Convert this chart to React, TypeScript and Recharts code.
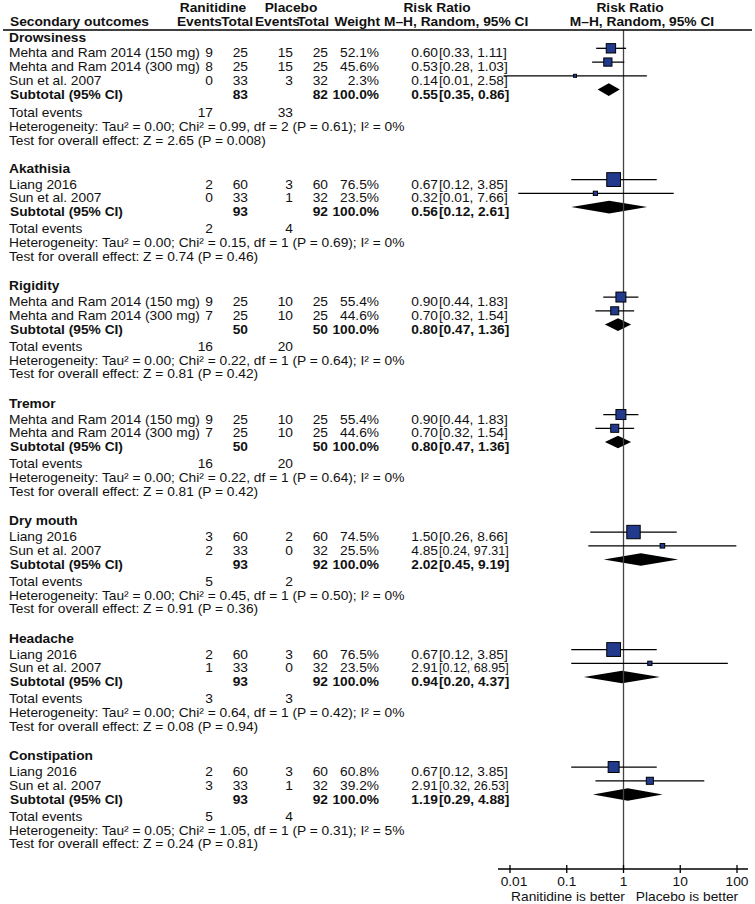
import React from "react";
import {
  ComposedChart,
  Scatter,
  Area,
  XAxis,
  YAxis,
  ErrorBar,
  ReferenceLine
} from "recharts";

const outcomes = ["Drowsiness", "Akathisia", "Rigidity", "Tremor", "Dry mouth", "Headache", "Constipation"];

// [study, ranitidine events, ranitidine total, placebo events, placebo total, weight %, RR, lower, upper]
type Study = [string, number, number, number, number, number, number, number, number];

const drowsiness: Study[] = [
  ["Mehta and Ram 2014  (150 mg)", 9, 25, 15, 25, 52.1, 0.6, 0.33, 1.11],
  ["Mehta and Ram 2014  (300 mg)", 8, 25, 15, 25, 45.6, 0.53, 0.28, 1.03],
  ["Sun et al. 2007", 0, 33, 3, 32, 2.3, 0.14, 0.0077, 2.58]
];
const akathisia: Study[] = [
  ["Liang 2016", 2, 60, 3, 60, 76.5, 0.67, 0.12, 3.85],
  ["Sun et al. 2007", 0, 33, 1, 32, 23.5, 0.32, 0.014, 7.66]
];
const rigidity: Study[] = [
  ["Mehta and Ram 2014  (150 mg)", 9, 25, 10, 25, 55.4, 0.9, 0.44, 1.83],
  ["Mehta and Ram 2014  (300 mg)", 7, 25, 10, 25, 44.6, 0.7, 0.32, 1.54]
];
const tremor: Study[] = [
  ["Mehta and Ram 2014  (150 mg)", 9, 25, 10, 25, 55.4, 0.9, 0.44, 1.83],
  ["Mehta and Ram 2014  (300 mg)", 7, 25, 10, 25, 44.6, 0.7, 0.32, 1.54]
];
const dryMouth: Study[] = [
  ["Liang 2016", 3, 60, 2, 60, 74.5, 1.5, 0.26, 8.66],
  ["Sun et al. 2007", 2, 33, 0, 32, 25.5, 4.85, 0.24, 97.31]
];
const headache: Study[] = [
  ["Liang 2016", 2, 60, 3, 60, 76.5, 0.67, 0.12, 3.85],
  ["Sun et al. 2007", 1, 33, 0, 32, 23.5, 2.91, 0.12, 68.95]
];
const constipation: Study[] = [
  ["Liang 2016", 2, 60, 3, 60, 60.8, 0.67, 0.12, 3.85],
  ["Sun et al. 2007", 3, 33, 1, 32, 39.2, 2.91, 0.32, 26.53]
];
const studies = [drowsiness, akathisia, rigidity, tremor, dryMouth, headache, constipation];

const subtotalN = [[83, 82], [93, 92], [50, 50], [50, 50], [93, 92], [93, 92], [93, 92]];
const subtotalRR = [
  [0.55, 0.35, 0.86],
  [0.56, 0.12, 2.61],
  [0.8, 0.47, 1.36],
  [0.8, 0.47, 1.36],
  [2.02, 0.45, 9.19],
  [0.94, 0.2, 4.37],
  [1.19, 0.29, 4.88]
];
const totalEvents = [[17, 33], [2, 4], [16, 20], [16, 20], [5, 2], [3, 3], [5, 4]];
// tau², chi², df, P, I²
const heterogeneity: [string, string, number, string, number][] = [
  ["0.00", "0.99", 2, "0.61", 0],
  ["0.00", "0.15", 1, "0.69", 0],
  ["0.00", "0.22", 1, "0.64", 0],
  ["0.00", "0.22", 1, "0.64", 0],
  ["0.00", "0.45", 1, "0.50", 0],
  ["0.00", "0.64", 1, "0.42", 0],
  ["0.05", "1.05", 1, "0.31", 5]
];
const overallEffect: [string, string][] = [
  ["2.65", "0.008"],
  ["0.74", "0.46"],
  ["0.81", "0.42"],
  ["0.81", "0.42"],
  ["0.91", "0.36"],
  ["0.08", "0.94"],
  ["0.24", "0.81"]
];

const xTicks = [0.01, 0.1, 1, 10, 100];

const FONT = "'Liberation Sans', Arial, sans-serif";
const SX = 1.075;
const DIAMOND_H = 0.46;

function T({ x, y, anchor = "start", bold = false, sx = SX, children }: any) {
  return (
    <text
      transform={`translate(${x},${y}) scale(${sx},1)`}
      textAnchor={anchor}
      fontWeight={bold ? 700 : 400}
      fontSize={12.8}
      fontFamily={FONT}
      fill="#111"
    >
      {children}
    </text>
  );
}

// build rows (y in row units)
const textRows: any[] = [];
const squares: any[] = [];
const diamonds: any[] = [];
let r = 0;
outcomes.forEach((name, g) => {
  const list = studies[g];
  const n = list.length;
  textRows.push({ x: 1, y: r, kind: "title", label: name });
  list.forEach((s, i) => {
    const y = r + 1.15 + i;
    textRows.push({ x: 1, y, kind: "study", s });
    squares.push({ x: s[6], y, w: s[5], err: [s[6] - s[7], s[8] - s[6]] });
  });
  const ys = r + 1.15 + n;
  const ye = ys + (n > 2 ? 1.36 : 1.26);
  const [rr, lo, hi] = subtotalRR[g];
  textRows.push({ x: 1, y: ys, kind: "subtotal", g });
  textRows.push({ x: 1, y: ye, kind: "events", g });
  textRows.push({ x: 1, y: ye + 1, kind: "het", g });
  textRows.push({ x: 1, y: ye + 2, kind: "test", g });
  diamonds.push(
    { x: lo, band: [ys, ys] },
    { x: rr, band: [ys - DIAMOND_H, ys + DIAMOND_H] },
    { x: hi, band: [ys, ys] },
    { x: 1, band: null }
  );
  r += n + 6.545;
});

const f2 = (v: number) => v.toFixed(2);

function Effect({ y, rr, lo, hi, bold }: any) {
  const ci = `[${f2(lo)}, ${f2(hi)}]`;
  return (
    <g>
      <T x={438} y={y} anchor="end" bold={bold}>{f2(rr)}</T>
      <T x={439} y={y} bold={bold} sx={ci.length > 12 ? 0.98 : SX}>{ci}</T>
    </g>
  );
}

function RowText(props: any) {
  const { cy, payload } = props;
  const y = cy + 9;
  if (payload.kind === "title") {
    return <T x={9} y={y} bold>{payload.label}</T>;
  }
  if (payload.kind === "study") {
    const s: Study = payload.s;
    return (
      <g>
        <T x={9} y={y}>{s[0]}</T>
        <T x={213} y={y} anchor="end">{s[1]}</T>
        <T x={248} y={y} anchor="end">{s[2]}</T>
        <T x={293} y={y} anchor="end">{s[3]}</T>
        <T x={328} y={y} anchor="end">{s[4]}</T>
        <T x={379} y={y} anchor="end">{`${s[5].toFixed(1)}%`}</T>
        <Effect y={y} rr={s[6]} lo={s[7]} hi={s[8]} />
      </g>
    );
  }
  const g = payload.g;
  if (payload.kind === "subtotal") {
    const [rr, lo, hi] = subtotalRR[g];
    return (
      <g>
        <T x={10} y={y} bold>Subtotal (95% CI)</T>
        <T x={248} y={y} anchor="end" bold>{subtotalN[g][0]}</T>
        <T x={328} y={y} anchor="end" bold>{subtotalN[g][1]}</T>
        <T x={379} y={y} anchor="end" bold>100.0%</T>
        <Effect y={y} rr={rr} lo={lo} hi={hi} bold />
      </g>
    );
  }
  if (payload.kind === "events") {
    return (
      <g>
        <T x={9} y={y}>Total events</T>
        <T x={213} y={y} anchor="end">{totalEvents[g][0]}</T>
        <T x={293} y={y} anchor="end">{totalEvents[g][1]}</T>
      </g>
    );
  }
  if (payload.kind === "het") {
    const [tau, chi, df, p, i2] = heterogeneity[g];
    return (
      <T x={9} y={y}>{`Heterogeneity: Tau² = ${tau}; Chi² = ${chi}, df = ${df} (P = ${p}); I² = ${i2}%`}</T>
    );
  }
  const [z, p] = overallEffect[g];
  return <T x={9} y={y}>{`Test for overall effect: Z = ${z} (P = ${p})`}</T>;
}

function Square(props: any) {
  const { cx, cy, payload } = props;
  const s = Math.max(3, payload.w * 0.18);
  return (
    <rect x={cx - s / 2} y={cy - s / 2} width={s} height={s} fill="#223a8c" stroke="#000" strokeWidth={1} />
  );
}

function AxisTick(props: any) {
  const { x, y, payload } = props;
  return (
    <g>
      <line x1={x} x2={x} y1={y - 4} y2={y + 4} stroke="#000" strokeWidth={1.3} />
      <T x={payload.value === 0.01 ? x + 4 : x} y={y + 16.5} anchor="middle">{String(payload.value)}</T>
    </g>
  );
}

export default function App() {
  return (
    <div style={{ position: "absolute", left: 0, top: 0, width: 755, height: 904, background: "#fff" }}>
      <ComposedChart width={755} height={904} margin={{ top: 30, right: 7, bottom: 0, left: 498 }}>
        <XAxis
          type="number"
          dataKey="x"
          scale="log"
          domain={[0.006144, 156.2]}
          ticks={xTicks}
          interval={0}
          height={35}
          tickSize={0}
          tickMargin={0}
          tickLine={false}
          axisLine={{ stroke: "#000", strokeWidth: 1.3 }}
          tick={<AxisTick />}
        />
        <YAxis type="number" dataKey="y" domain={[-0.182, 60.836]} reversed hide width={0} />
        <ReferenceLine x={1} stroke="#444" strokeWidth={1.3} />
        <Area
          data={diamonds}
          dataKey="band"
          type="linear"
          fill="#000"
          fillOpacity={1}
          stroke="none"
          dot={false}
          activeDot={false}
          isAnimationActive={false}
        />
        <Scatter data={squares} shape={<Square />} isAnimationActive={false}>
          <ErrorBar dataKey="err" direction="x" width={0} stroke="#000" strokeWidth={1.3} />
        </Scatter>
        <Scatter data={textRows} shape={<RowText />} isAnimationActive={false} />
      </ComposedChart>
      <svg width={755} height={904} style={{ position: "absolute", left: 0, top: 0, pointerEvents: "none" }}>
        <T x={213} y={12} anchor="middle" bold>Ranitidine</T>
        <T x={291} y={12} anchor="middle" bold>Placebo</T>
        <T x={437} y={12} anchor="middle" bold>Risk Ratio</T>
        <T x={630} y={12} anchor="middle" bold>Risk Ratio</T>
        <T x={10} y={26} bold>Secondary outcomes</T>
        <T x={222} y={26} anchor="end" bold>Events</T>
        <T x={253} y={26} anchor="end" bold>Total</T>
        <T x={300} y={26} anchor="end" bold>Events</T>
        <T x={329} y={26} anchor="end" bold>Total</T>
        <T x={380} y={26} anchor="end" bold>Weight</T>
        <T x={384} y={26} bold>M–H, Random, 95% CI</T>
        <T x={642} y={26} anchor="middle" bold>M–H, Random, 95% CI</T>
        <line x1={3} x2={752} y1={30} y2={30} stroke="#000" strokeWidth={1.5} />
        <T x={568} y={901} anchor="middle">Ranitidine is better</T>
        <T x={687} y={901} anchor="middle">Placebo is better</T>
      </svg>
    </div>
  );
}
